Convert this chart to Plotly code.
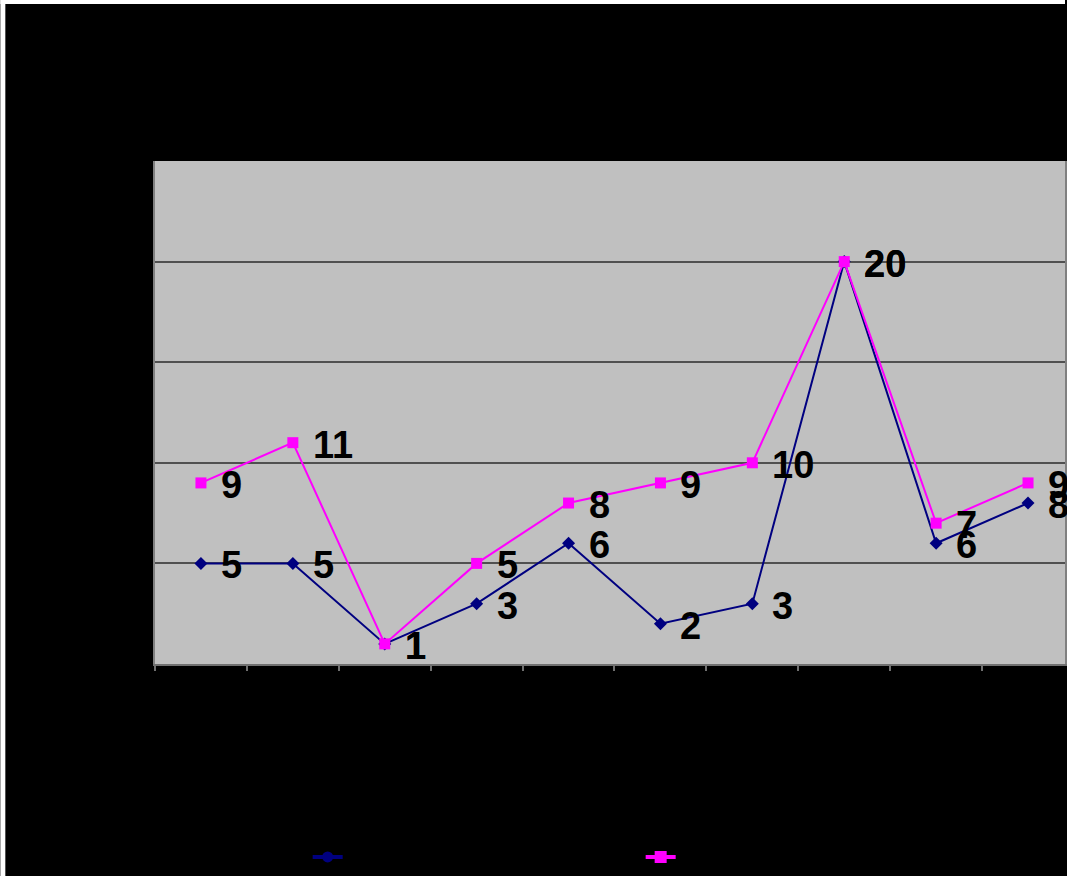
import plotly.graph_objects as go

# Categories along the x axis and the two series plotted against them
categories = ["1", "2", "3", "4", "5", "6", "7", "8", "9", "10"]
series_a = [5, 5, 1, 3, 6, 2, 3, 20, 6, 8]
series_b = [9, 11, 1, 5, 8, 9, 10, 20, 7, 9]
series_names = ["Serie 1", "Serie 2"]
y_ticks = [0, 5, 10, 15, 20, 25]

W, H = 1067, 876
L, T, B, R = 155, 161, 212, 0
plot_w = W - L - R
plot_h = H - T - B
cat_px = 92.1  # width of one category slot in pixels

NAVY = "#000080"
MAGENTA = "#FF00FF"


def px_x(p):
    return (p - L) / plot_w


def px_y(p):
    return (H - B - p) / plot_h


label_font = dict(family="Liberation Sans, Arial, sans-serif", size=38,
                  color="black", weight="bold")

fig = go.Figure()
fig.add_trace(go.Scatter(
    x=categories, y=series_a, name=series_names[0], showlegend=False,
    mode="lines+markers",
    line=dict(color=NAVY, width=2),
    marker=dict(symbol="diamond", size=10, color=NAVY),
))
fig.add_trace(go.Scatter(
    x=categories, y=series_b, name=series_names[1], showlegend=False,
    mode="lines+markers",
    line=dict(color=MAGENTA, width=2),
    marker=dict(symbol="square", size=11, color=MAGENTA),
))

# legend entries with heavier keys
fig.add_trace(go.Scatter(
    x=[None], y=[None], name=series_names[0], mode="lines+markers",
    line=dict(color=NAVY, width=4),
    marker=dict(symbol="circle", size=11, color=NAVY),
))
fig.add_trace(go.Scatter(
    x=[None], y=[None], name=series_names[1], mode="lines+markers",
    line=dict(color=MAGENTA, width=4),
    marker=dict(symbol="square", size=12, color=MAGENTA),
))

# value labels to the right of each point (x given as category position)
for values in (series_a, series_b):
    for pos, v in enumerate(values):
        fig.add_annotation(
            x=pos, y=v, text=str(v), showarrow=False,
            xanchor="left", yanchor="middle", xshift=18, yshift=-2,
            font=label_font,
        )

# thin white frame along the left and top edges of the page
fig.add_shape(type="rect", xref="paper", yref="paper", layer="above",
              x0=px_x(0), x1=px_x(5), y0=px_y(H), y1=px_y(0),
              fillcolor="white", line=dict(width=0))
fig.add_shape(type="rect", xref="paper", yref="paper", layer="above",
              x0=px_x(0), x1=px_x(W), y0=px_y(4), y1=px_y(0),
              fillcolor="white", line=dict(width=0))

fig.update_layout(
    width=W, height=H,
    margin=dict(l=L, r=R, t=T, b=B, pad=0),
    paper_bgcolor="black",
    plot_bgcolor="#C0C0C0",
    font=dict(family="Liberation Sans, Arial, sans-serif", size=16, color="black"),
    showlegend=True,
    legend=dict(
        orientation="h", xanchor="left", yanchor="middle",
        x=px_x(308), y=px_y(857),
        bgcolor="rgba(0,0,0,0)",
        font=dict(size=16, color="black"),
        entrywidth=288, entrywidthmode="pixels",
        itemsizing="trace",
    ),
    xaxis=dict(
        type="category",
        range=[-0.5, -0.5 + plot_w / cat_px],
        showgrid=False, zeroline=False,
        showline=True, linecolor="#707070", linewidth=2,
        ticks="outside", tickson="boundaries", ticklen=5,
        tickcolor="#707070", tickwidth=2,
        tickfont=dict(color="black", size=16),
    ),
    yaxis=dict(
        range=[0, 25], tickvals=y_ticks,
        showgrid=True, gridcolor="#505050", gridwidth=2,
        zeroline=False,
        showline=True, mirror=True, linecolor="#808080", linewidth=2,
        ticks="", tickfont=dict(color="black", size=16),
    ),
)

fig.write_html("out.html")
